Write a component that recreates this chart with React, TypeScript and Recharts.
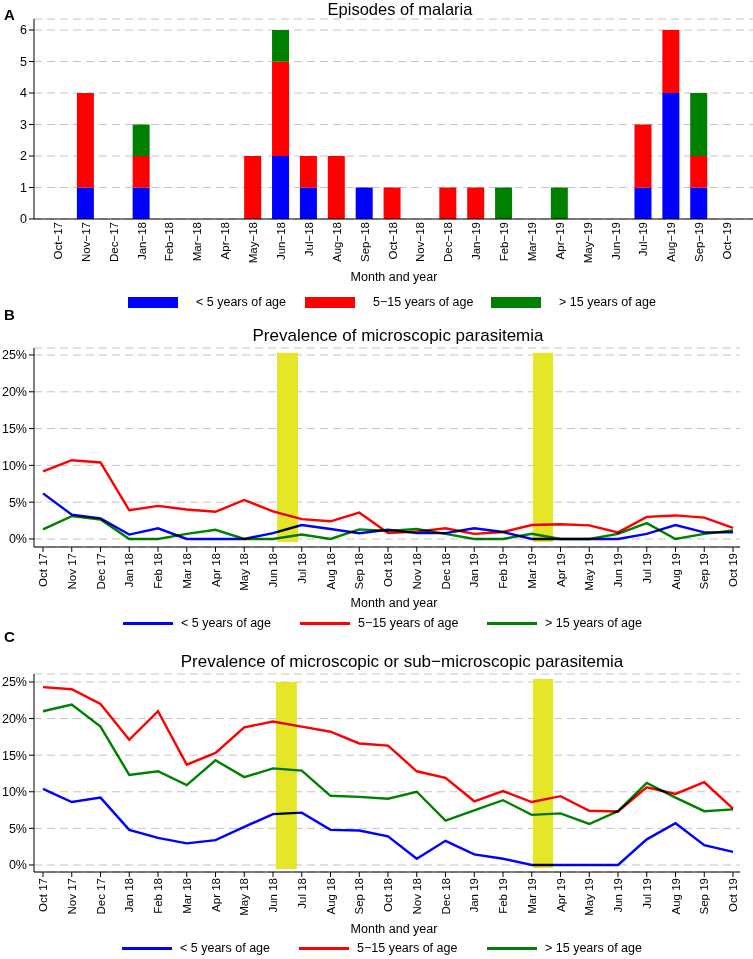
import React from "react";
import {
  BarChart, Bar, LineChart, Line, XAxis, YAxis, CartesianGrid, ReferenceArea,
} from "recharts";

const months = [
  "Oct 17", "Nov 17", "Dec 17", "Jan 18", "Feb 18", "Mar 18", "Apr 18", "May 18", "Jun 18",
  "Jul 18", "Aug 18", "Sep 18", "Oct 18", "Nov 18", "Dec 18", "Jan 19", "Feb 19", "Mar 19",
  "Apr 19", "May 19", "Jun 19", "Jul 19", "Aug 19", "Sep 19", "Oct 19",
];
const monthsA = months.map((m) => m.replace(" ", "−"));

// A: episodes of malaria
const episodesUnder5 = [0, 1, 0, 1, 0, 0, 0, 0, 2, 1, 0, 1, 0, 0, 0, 0, 0, 0, 0, 0, 0, 1, 4, 1, 0];
const episodes5to15 = [0, 3, 0, 1, 0, 0, 0, 2, 3, 1, 2, 0, 1, 0, 1, 1, 0, 0, 0, 0, 0, 2, 2, 1, 0];
const episodesOver15 = [0, 0, 0, 1, 0, 0, 0, 0, 1, 0, 0, 0, 0, 0, 0, 0, 1, 0, 1, 0, 0, 0, 0, 2, 0];

// B: microscopic parasitemia (%)
const microUnder5 = [6.2, 3.3, 2.8, 0.6, 1.45, 0, 0, 0, 0.8, 1.9, 1.35, 0.77, 1.25, 0.8, 0.8, 1.45, 0.95, 0, 0, 0, 0, 0.7, 1.9, 0.9, 0.9];
const micro5to15 = [9.2, 10.7, 10.4, 3.9, 4.5, 4.0, 3.7, 5.3, 3.75, 2.7, 2.4, 3.6, 0.8, 1.0, 1.45, 0.7, 0.95, 1.9, 2.0, 1.85, 0.9, 3.0, 3.2, 2.9, 1.5];
const microOver15 = [1.3, 3.1, 2.65, 0, 0, 0.7, 1.25, 0, 0, 0.6, 0, 1.3, 1.1, 1.35, 0.7, 0, 0, 0.7, 0, 0, 0.7, 2.15, 0, 0.7, 1.15];

// C: microscopic or sub-microscopic parasitemia (%)
const subUnder5 = [10.4, 8.6, 9.2, 4.8, 3.7, 2.95, 3.4, 5.2, 6.95, 7.15, 4.8, 4.7, 3.9, 0.85, 3.3, 1.45, 0.85, 0, 0, 0, 0, 3.5, 5.7, 2.7, 1.8];
const sub5to15 = [24.3, 24.0, 22.0, 17.1, 21.0, 13.7, 15.3, 18.8, 19.6, 18.9, 18.2, 16.6, 16.3, 12.8, 11.9, 8.7, 10.1, 8.6, 9.4, 7.4, 7.3, 10.6, 9.7, 11.3, 7.7];
const subOver15 = [21.0, 21.9, 18.9, 12.3, 12.8, 10.9, 14.3, 12.0, 13.2, 12.9, 9.45, 9.3, 9.05, 10.0, 6.05, 7.45, 8.85, 6.85, 7.05, 5.6, 7.35, 11.2, 9.2, 7.35, 7.6];

const countTicks = [0, 1, 2, 3, 4, 5, 6];
const pctTicks = [0, 5, 10, 15, 20, 25];
const indexTicks = months.map((_, i) => i);

const groups = ["< 5 years of age", "5−15 years of age", "> 15 years of age"];
const BLUE = "#0000ff";
const RED = "#ff0000";
const GREEN = "#008000";
const YELLOW = "#e6e628";
const GRID = "#c4c4c4";
const FONT = '"Liberation Sans", Arial, Helvetica, sans-serif';

const dataA = monthsA.map((m, i) => ({
  month: m, u5: episodesUnder5[i], m515: episodes5to15[i], o15: episodesOver15[i],
}));
const dataB = months.map((m, i) => ({ i, u5: microUnder5[i], m515: micro5to15[i], o15: microOver15[i] }));
const dataC = months.map((m, i) => ({ i, u5: subUnder5[i], m515: sub5to15[i], o15: subOver15[i] }));

const RotTick = (props: any) => {
  const { x, y, payload, labels } = props;
  const label = labels ? labels[payload.value] : payload.value;
  return (
    <text
      x={x}
      y={y}
      transform={`rotate(-90 ${x} ${y})`}
      textAnchor="end"
      dominantBaseline="central"
      fontSize={11.5}
      fontFamily={FONT}
      fill="#000"
    >
      {label}
    </text>
  );
};

const Txt = ({ x, y, size, bold, children, center }: any) => (
  <div
    style={{
      position: "absolute",
      left: center ? x - 400 : x,
      width: center ? 800 : undefined,
      textAlign: center ? "center" : "left",
      top: y - size * 0.6,
      fontSize: size,
      lineHeight: `${size * 1.2}px`,
      fontWeight: bold ? "bold" : "normal",
      whiteSpace: "nowrap",
    }}
  >
    {children}
  </div>
);

const Legend = ({ y, kind, xs }: { y: number; kind: "box" | "line"; xs: number[] }) => {
  const colors = [BLUE, RED, GREEN];
  return (
    <>
      {groups.map((g, k) => (
        <React.Fragment key={g}>
          <div
            style={{
              position: "absolute",
              left: xs[k],
              top: kind === "box" ? y - 5.5 : y - 1.5,
              width: 50,
              height: kind === "box" ? 11 : 3,
              background: colors[k],
            }}
          />
          <Txt x={xs[k] + (kind === "box" ? 68 : 58)} y={y} size={12.5}>{g}</Txt>
        </React.Fragment>
      ))}
    </>
  );
};

const pctChart = (data: any[], yTop: number, domain: [number, number], plotH: number, areas: number[][]) => (
  <div style={{ position: "absolute", left: 0, top: yTop }}>
    <LineChart width={753} height={8 + plotH + 50} data={data} margin={{ top: 8, right: 13, left: 0, bottom: 0 }}>
      <CartesianGrid vertical={false} strokeDasharray="8 5" stroke={GRID} />
      {areas.map((a, k) => (
        <ReferenceArea key={k} x1={a[0]} x2={a[1]} y1={a[2]} y2={a[3]} fill={YELLOW} fillOpacity={1} stroke="none" ifOverflow="visible" />
      ))}
      <XAxis
        type="number"
        dataKey="i"
        domain={[0, 24]}
        ticks={indexTicks}
        interval={0}
        padding={{ left: 9, right: 7 }}
        height={50}
        tickSize={5}
        tickMargin={1}
        stroke="#000"
        tick={<RotTick labels={months} />}
      />
      <YAxis
        domain={domain}
        ticks={pctTicks}
        allowDataOverflow
        width={34}
        tickSize={5}
        tickMargin={2}
        stroke="#000"
        tickFormatter={(v: number) => `${v}%`}
        tick={{ fontSize: 12.5, fill: "#000", fontFamily: FONT }}
      />
      <Line dataKey="u5" stroke={BLUE} strokeWidth={2.4} dot={false} isAnimationActive={false} type="linear" />
      <Line dataKey="m515" stroke={RED} strokeWidth={2.4} dot={false} isAnimationActive={false} type="linear" />
      <Line dataKey="o15" stroke={GREEN} strokeWidth={2.4} dot={false} isAnimationActive={false} type="linear" />
    </LineChart>
  </div>
);

export default function App() {
  return (
    <div
      style={{
        position: "absolute",
        left: 0,
        top: 0,
        width: 753,
        height: 959,
        background: "#fff",
        fontFamily: FONT,
        color: "#000",
        overflow: "hidden",
      }}
    >
      <style>{`.recharts-line path { mix-blend-mode: multiply; }`}</style>

      {/* Panel A */}
      <div style={{ position: "absolute", left: 0, top: 0 }}>
        <BarChart width={753} height={270} data={dataA} margin={{ top: 19, right: 0, left: 0, bottom: 0 }} barSize={17}>
          <CartesianGrid vertical={false} strokeDasharray="8 5" stroke={GRID} />
          <XAxis
            dataKey="month"
            interval={0}
            height={51}
            tickLine={false}
            tickSize={0}
            tickMargin={3}
            padding={{ left: 10, right: 12 }}
            stroke="#000"
            tick={<RotTick />}
          />
          <YAxis
            domain={[0, 6.35]}
            ticks={countTicks}
            allowDataOverflow
            width={34}
            tickSize={5}
            tickMargin={2}
            stroke="#000"
            tick={{ fontSize: 12.5, fill: "#000", fontFamily: FONT }}
          />
          <Bar dataKey="u5" stackId="a" fill={BLUE} isAnimationActive={false} />
          <Bar dataKey="m515" stackId="a" fill={RED} isAnimationActive={false} />
          <Bar dataKey="o15" stackId="a" fill={GREEN} isAnimationActive={false} />
        </BarChart>
      </div>
      <Txt x={4} y={15} size={15} bold>A</Txt>
      <Txt x={400} y={10} size={16.5} center>Episodes of malaria</Txt>
      <Txt x={394} y={277} size={12.5} center>Month and year</Txt>
      <Legend y={302} kind="box" xs={[128, 305, 491]} />

      {/* Panel B */}
      {pctChart(dataB, 340, [-1.09, 25.95], 199, [
        [8.14, 8.87, -0.4, 25.3],
        [17.04, 17.74, -0.4, 25.3],
      ])}
      <Txt x={4} y={315} size={15} bold>B</Txt>
      <Txt x={398} y={336} size={17} center>Prevalence of microscopic parasitemia</Txt>
      <Txt x={394} y={603} size={12.5} center>Month and year</Txt>
      <Legend y={623} kind="line" xs={[123, 300, 487]} />

      {/* Panel C */}
      {pctChart(dataC, 666, [-0.96, 26.09], 198, [
        [8.1, 8.83, -0.55, 25.0],
        [17.04, 17.74, -0.4, 25.4],
      ])}
      <Txt x={4} y={637} size={15} bold>C</Txt>
      <Txt x={402} y={662} size={17} center>Prevalence of microscopic or sub−microscopic parasitemia</Txt>
      <Txt x={394} y={929} size={12.5} center>Month and year</Txt>
      <Legend y={948} kind="line" xs={[122, 299, 487]} />
    </div>
  );
}
